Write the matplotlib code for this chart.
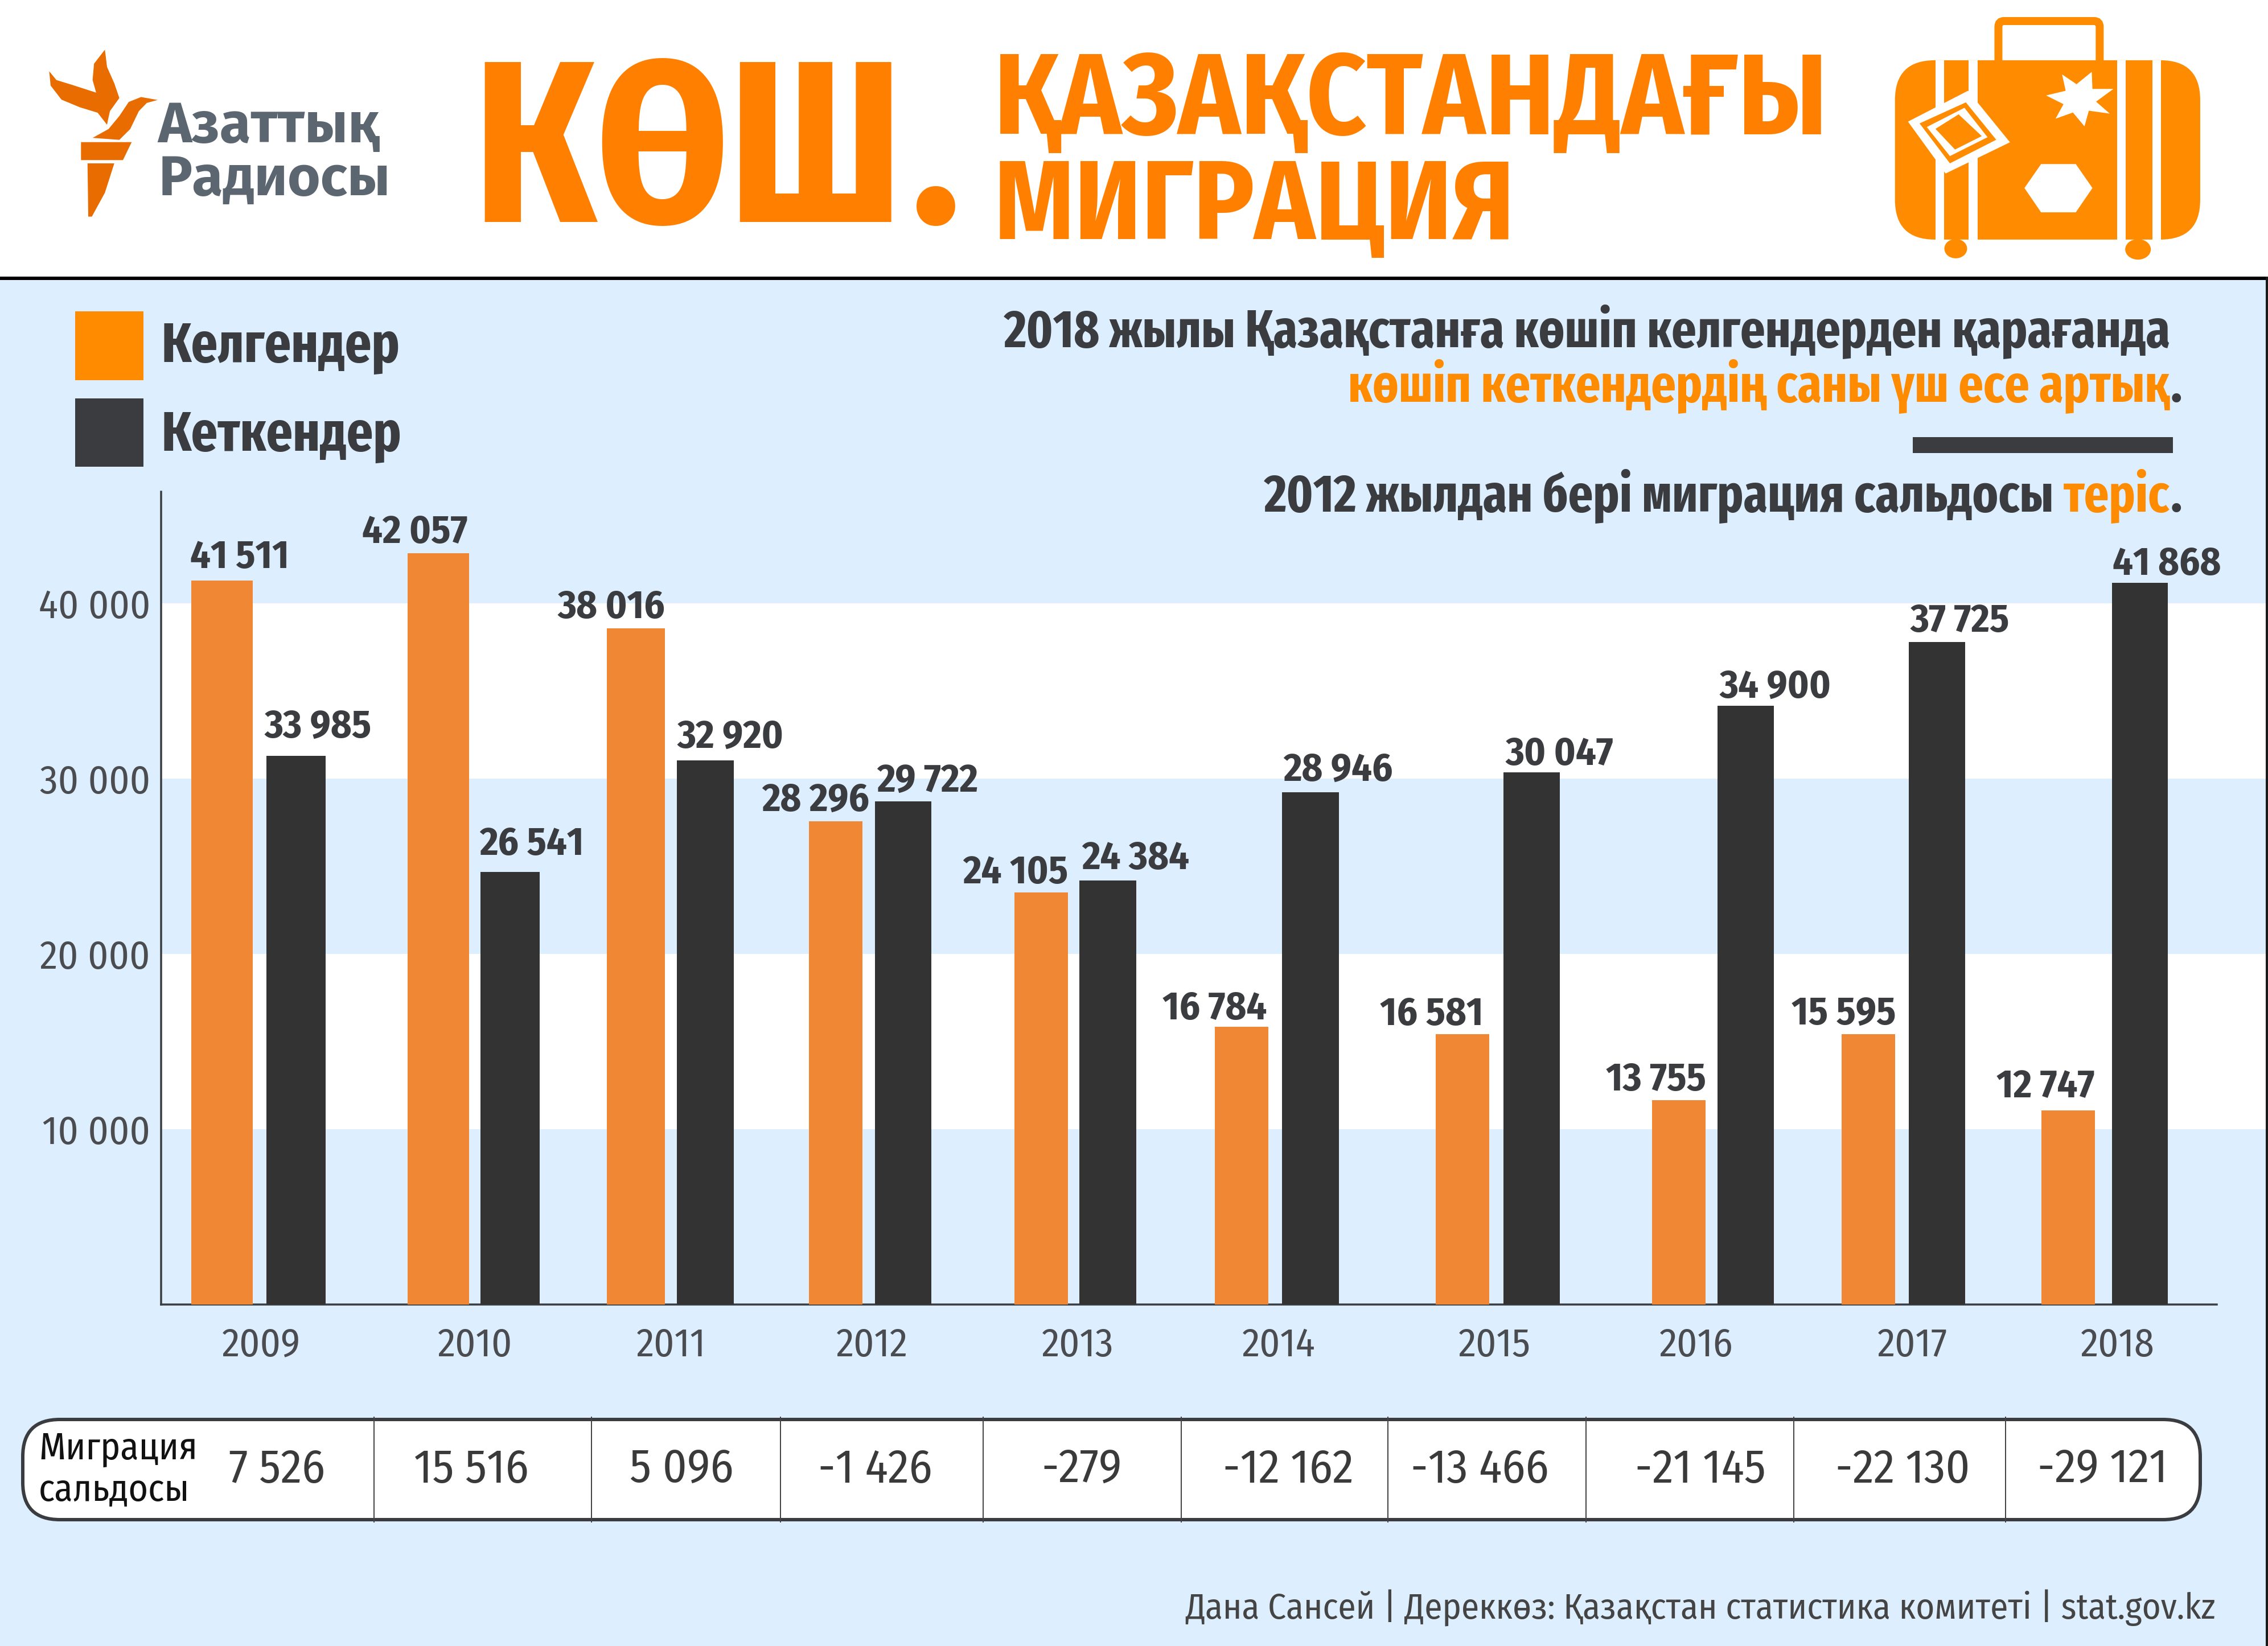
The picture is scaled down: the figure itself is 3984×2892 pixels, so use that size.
"""Kazakhstan migration infographic, drawn in pixel layout of the 3984x2892 original."""

import matplotlib

matplotlib.use("Agg")

import matplotlib.pyplot as plt
from matplotlib.patches import Ellipse, FancyBboxPatch, Polygon, Rectangle

years = ["2009", "2010", "2011", "2012", "2013", "2014", "2015", "2016", "2017", "2018"]

# printed values
arrivals = [41511, 42057, 38016, 28296, 24105, 16784, 16581, 13755, 15595, 12747]
departures = [33985, 26541, 32920, 29722, 24384, 28946, 30047, 34900, 37725, 41868]
balance = [7526, 15516, 5096, -1426, -279, -12162, -13466, -21145, -22130, -29121]

# the bars in the original do not follow the printed values exactly, heights
arrivals_drawn = [41300, 42860, 38580, 27560, 23520, 15840, 15430, 11640, 15430, 11070]
departures_drawn = [31300, 24680, 31040, 28710, 24180, 29210, 30360, 34150, 37790, 41170]

y_ticks = [10000, 20000, 30000, 40000]
white_bands = [(10000, 20000), (30000, 40000)]

LEGEND_IN = "Келгендер"
LEGEND_OUT = "Кеткендер"
BALANCE_TITLE = ["Миграция", "сальдосы"]
SOURCE = "Дана Сансей | Дереккөз: Қазақстан статистика комитеті | stat.gov.kz"

DPI = 200
WIDTH, HEIGHT = 3984, 2892
BLUE = "#DDEEFF"
ORANGE = "#FF8C00"
TITLE_ORANGE = "#FF8000"
BAR_ORANGE = "#F08735"
BAR_DARK = "#333333"
INK = "#3A3C40"
COND = ["Fira Sans Condensed", "Noto Sans"]
XCOND = ["Fira Sans Extra Condensed", "Fira Sans Condensed", "Noto Sans"]
WIDE = ["Fira Sans", "Noto Sans"]

# layout, in image pixels
AXIS_LEFT, AXIS_RIGHT, AXIS_END = 283, 3980, 3894
AXIS_TOP, AXIS_BASE = 864, 2292
PX_PER_10K = 308
in_edges = [(336, 444), (716, 824), (1066, 1168), (1421, 1515), (1782, 1876),
            (2134, 2228), (2522, 2616), (2902, 2996), (3235, 3329), (3586, 3680)]
out_edges = [(468, 572), (844, 948), (1189, 1289), (1537, 1636), (1896, 1996),
             (2252, 2352), (2641, 2740), (3017, 3116), (3353, 3452), (3710, 3808)]
year_x = [459, 835, 1179, 1532, 1893, 2246, 2625, 2980, 3359, 3720]
in_label_xy = [(421, 998), (729, 954), (1074, 1086), (1433, 1425), (1784, 1552),
               (2134, 1791), (2515, 1801), (2909, 1916), (3239, 1801), (3593, 1928)]
out_label_xy = [(559, 1296), (934, 1502), (1283, 1314), (1629, 1392), (1995, 1527),
                (2350, 1372), (2739, 1344), (3118, 1226), (3443, 1110), (3806, 1010)]
balance_x = [487, 828, 1197, 1537, 1900, 2263, 2599, 2987, 3342, 3693]
divider_x = [657, 1039, 1371, 1727, 2075, 2438, 2786, 3151, 3523]


def pt(px: float) -> float:
    return px * 72 / DPI


def spaced(value: int) -> str:
    return f"{value:,}".replace(",", " ")


def add_text(ov, x, y, text, size, family=COND, weight="normal", color=INK, ha="left"):
    ov.text(x, y, text, fontsize=pt(size), family=family, weight=weight,
            color=color, ha=ha, va="baseline")


def draw_chart(fig) -> None:
    ax = fig.add_axes([
        AXIS_LEFT / WIDTH,
        1 - AXIS_BASE / HEIGHT,
        (AXIS_RIGHT - AXIS_LEFT) / WIDTH,
        (AXIS_BASE - AXIS_TOP) / HEIGHT,
    ])
    ax.patch.set_alpha(0)
    ax.set_xlim(AXIS_LEFT, AXIS_RIGHT)
    ax.set_ylim(0, (AXIS_BASE - AXIS_TOP) / PX_PER_10K * 10000)

    for low, high in white_bands:
        ax.axhspan(low, high, color="white", lw=0, zorder=0)

    for (left, right), height in zip(in_edges, arrivals_drawn):
        ax.bar(left, height, width=right - left, align="edge", color=BAR_ORANGE, zorder=3)
    for (left, right), height in zip(out_edges, departures_drawn):
        ax.bar(left, height, width=right - left, align="edge", color=BAR_DARK, zorder=3)

    for side in ["top", "right"]:
        ax.spines[side].set_visible(False)
    for side in ["left", "bottom"]:
        ax.spines[side].set_color(INK)
        ax.spines[side].set_linewidth(pt(3.5))
        ax.spines[side].set_zorder(2)
    ax.spines["bottom"].set_bounds(AXIS_LEFT, AXIS_END)

    ax.set_yticks(y_ticks, [spaced(v) for v in y_ticks])
    ax.set_xticks(year_x, years)
    ax.tick_params(axis="y", length=0, pad=pt(19), colors="#4A4C50")
    ax.tick_params(axis="x", length=0, pad=pt(38), colors="#4A4C50")
    for label in ax.get_xticklabels() + ax.get_yticklabels():
        label.set_fontsize(pt(70))
        label.set_family(COND)
        label.set_weight("normal")


def draw_torch(ov) -> None:
    # logo shapes
    def scaled(points):
        return [(x / 0.787, y / 1.742) for x, y in points]

    shapes = [
        [(112, 435), (182, 435), (170, 490), (112, 490)],
        [(121, 500), (158, 500), (145, 590), (127, 663), (122, 663)],
        [(145, 152), (130, 195), (128, 245), (135, 300), (148, 380), (152, 340),
         (165, 300), (158, 255), (148, 205)],
        [(68, 218), (70, 262), (85, 305), (110, 328), (135, 345), (148, 382), (150, 330),
         (135, 285), (100, 260), (78, 245)],
        [(218, 306), (195, 297), (178, 312), (165, 355), (150, 395), (128, 422), (165, 428),
         (180, 395), (192, 340), (203, 315)],
    ]
    for shape in shapes:
        ov.add_patch(Polygon(scaled(shape), closed=True, color="#E86C00", lw=0))


def draw_suitcase(ov) -> None:
    def sx(x):
        return 1992 + x / 0.787

    def sy(y):
        return y / 1.568

    def poly(points, color):
        ov.add_patch(Polygon([(sx(x), sy(y)) for x, y in points], closed=True, color=color, lw=0))

    ov.add_patch(FancyBboxPatch((sx(1195), sy(58)), sx(1335) - sx(1195), sy(140),
                                boxstyle="round,pad=0,rounding_size=10",
                                fc="white", ec=ORANGE, lw=pt(14)))
    ov.add_patch(FancyBboxPatch((sx(1052), sy(166)), sx(1474) - sx(1052), sy(660) - sy(166),
                                boxstyle="round,pad=0,rounding_size=70", fc=ORANGE, ec="none"))
    for left, right in [(1108, 1120), (1154, 1166), (1359, 1371), (1408, 1420)]:
        ov.add_patch(Rectangle((sx(left), sy(166)), sx(right) - sx(left), sy(660) - sy(166),
                               color="white", lw=0))
    ov.add_patch(Ellipse((sx(1136), sy(685)), 40, 34, color=ORANGE, lw=0))
    ov.add_patch(Ellipse((sx(1388), sy(687)), 45, 36, color=ORANGE, lw=0))

    poly([(1283, 205), (1303, 232), (1324, 198), (1325, 245), (1354, 245), (1330, 280),
          (1349, 313), (1320, 305), (1314, 348), (1298, 310), (1274, 327), (1285, 287),
          (1261, 263), (1288, 250)], "white")
    poly([(1254, 452), (1302, 452), (1325, 518), (1302, 585), (1254, 585), (1231, 518)], "white")
    poly([(1153, 250), (1211, 392), (1122, 478), (1070, 335)], "white")
    poly([(1150, 282), (1192, 385), (1128, 450), (1086, 340)], ORANGE)
    poly([(1148, 297), (1180, 378), (1128, 430), (1096, 350)], "white")
    poly([(1140, 315), (1172, 375), (1135, 412), (1108, 355)], ORANGE)


def draw_header(ov) -> None:
    ov.add_patch(Rectangle((0, 0), WIDTH, 490, color="white", lw=0, zorder=0))
    ov.add_patch(Rectangle((0, 486), WIDTH, 6, color="black", lw=0, zorder=1))
    ov.add_patch(Rectangle((3980, 486), 4, HEIGHT - 486, color="#1A1A1A", lw=0, zorder=1))

    draw_torch(ov)
    add_text(ov, 277, 250, "Азаттық", 100, family=WIDE, weight="bold", color="#5B6670")
    add_text(ov, 279, 343, "Радиосы", 99, family=WIDE, weight="bold", color="#5B6670")

    add_text(ov, 832, 390, "КӨШ", 404, family=XCOND, weight="bold", color=TITLE_ORANGE)
    add_text(ov, 1600, 390, ".", 399, family=XCOND, weight="bold", color=TITLE_ORANGE)
    add_text(ov, 1746, 236, "ҚАЗАҚСТАНДАҒЫ", 202, family=COND, weight="bold", color=TITLE_ORANGE)
    add_text(ov, 1746, 420, "МИГРАЦИЯ", 197, family=COND, weight="bold", color=TITLE_ORANGE)

    draw_suitcase(ov)


def draw_notes(ov) -> None:
    ov.add_patch(Rectangle((132, 547), 120, 121, color=ORANGE, lw=0))
    ov.add_patch(Rectangle((132, 700), 120, 120, color=INK, lw=0))
    add_text(ov, 284, 636, LEGEND_IN, 99, family=XCOND, weight="bold")
    add_text(ov, 284, 792, LEGEND_OUT, 99, family=XCOND, weight="bold")

    add_text(ov, 3813, 609, "2018 жылы Қазақстанға көшіп келгендерден қарағанда", 93,
             family=XCOND, weight="bold", ha="right")
    add_text(ov, 3811, 705, "көшіп кеткендердің саны үш есе артық", 93,
             family=XCOND, weight="bold", color=ORANGE, ha="right")
    add_text(ov, 3813, 705, ".", 93, family=XCOND, weight="bold")
    ov.add_patch(Rectangle((3360, 768), 457, 28, color=INK, lw=0))
    add_text(ov, 3608, 898, "2012 жылдан бері миграция сальдосы", 93,
             family=XCOND, weight="bold", ha="right")
    add_text(ov, 3811, 898, "теріс", 93, family=XCOND, weight="bold", color=ORANGE, ha="right")
    add_text(ov, 3813, 898, ".", 93, family=XCOND, weight="bold")


def draw_value_labels(ov) -> None:
    for value, (x, y) in zip(arrivals, in_label_xy):
        add_text(ov, x, y, spaced(value), 70, weight="bold", ha="center")
    for value, (x, y) in zip(departures, out_label_xy):
        add_text(ov, x, y, spaced(value), 70, weight="bold", ha="center")


def draw_balance_row(ov) -> None:
    ov.add_patch(FancyBboxPatch((40, 2494), 3825, 176,
                                boxstyle="round,pad=0,rounding_size=65",
                                fc="white", ec=INK, lw=pt(6)))
    for x in divider_x:
        ov.plot([x, x], [2490, 2674], color="#444444", lw=pt(2))
    add_text(ov, 68, 2564, BALANCE_TITLE[0], 66, color="#111111")
    add_text(ov, 68, 2637, BALANCE_TITLE[1], 66, color="#111111")
    for value, x in zip(balance, balance_x):
        add_text(ov, x, 2605, spaced(value), 83, color="#3A3A3A", ha="center")


def main() -> None:
    fig = plt.figure(figsize=(WIDTH / DPI, HEIGHT / DPI), dpi=DPI, facecolor=BLUE)

    draw_chart(fig)

    # overlay in image pixels for everything that is not on the chart scales
    ov = fig.add_axes([0, 0, 1, 1], zorder=5)
    ov.set_xlim(0, WIDTH)
    ov.set_ylim(HEIGHT, 0)
    ov.axis("off")

    draw_header(ov)
    draw_notes(ov)
    draw_value_labels(ov)
    draw_balance_row(ov)
    add_text(ov, 3892, 2844, SOURCE, 63, color="#444444", ha="right")

    fig.savefig("out.png", dpi=DPI, facecolor=BLUE)


if __name__ == "__main__":
    main()
